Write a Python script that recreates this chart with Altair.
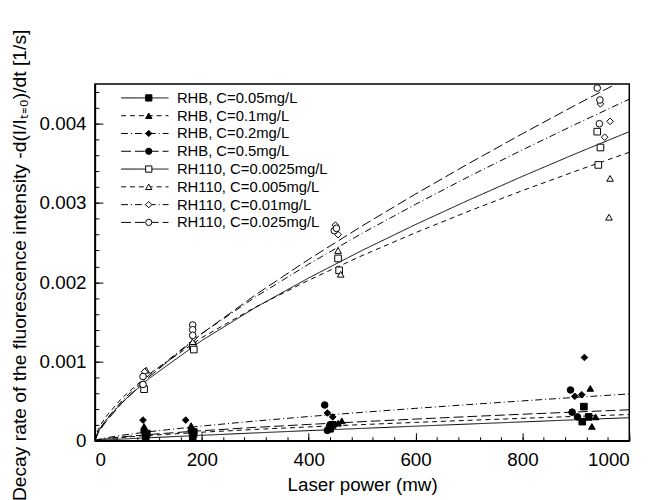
import altair as alt
import pandas as pd

series = ["RHB, C=0.05mg/L", "RHB, C=0.1mg/L", "RHB, C=0.2mg/L", "RHB, C=0.5mg/L",
          "RH110, C=0.0025mg/L", "RH110, C=0.005mg/L", "RH110, C=0.01mg/L", "RH110, C=0.025mg/L"]

# fitted curves
curve_x = [0, 5, 10, 20, 50, 100, 200, 300, 400, 500, 600, 700, 800, 900, 1000]
rhb_005 = [0, 0.0000025, 0.0000046, 0.0000086, 0.00002, 0.0000365, 0.000068, 0.000098, 0.000127, 0.000155, 0.000183, 0.00021, 0.000237, 0.000264, 0.00029]
rhb_01 = [0, 0.0000081, 0.0000131, 0.0000213, 0.0000405, 0.0000658, 0.000107, 0.000142, 0.000174, 0.000203, 0.000231, 0.000257, 0.000282, 0.000307, 0.00033]
rhb_02 = [0, 0.000013, 0.0000214, 0.0000353, 0.0000683, 0.000112, 0.000185, 0.000248, 0.000305, 0.000358, 0.000408, 0.000456, 0.000502, 0.000547, 0.00059]
rhb_05 = [0, 0.0000096, 0.0000155, 0.0000252, 0.0000479, 0.0000778, 0.000126, 0.000168, 0.000205, 0.00024, 0.000273, 0.000304, 0.000334, 0.000362, 0.00039]
rh_00025 = [0, 0.000096, 0.000155, 0.000252, 0.000479, 0.000778, 0.001264, 0.001679, 0.002054, 0.002401, 0.002728, 0.003038, 0.003336, 0.003623, 0.0039]
rh_0005 = [0, 0.000123, 0.000191, 0.000298, 0.000535, 0.000834, 0.0013, 0.001685, 0.002025, 0.002336, 0.002625, 0.002897, 0.003156, 0.003403, 0.00364]
rh_001 = [0, 0.000095, 0.000156, 0.000258, 0.000499, 0.000821, 0.001352, 0.001812, 0.002228, 0.002617, 0.002983, 0.003334, 0.00367, 0.003995, 0.00431]
rh_0025 = [0, 0.000082, 0.000139, 0.000235, 0.000471, 0.000798, 0.001351, 0.001838, 0.002288, 0.00271, 0.003113, 0.0035, 0.003874, 0.004237, 0.00459]
curves = [rhb_005, rhb_01, rhb_02, rhb_05, rh_00025, rh_0005, rh_001, rh_0025]

# measured points
p_rhb_005_x = [95, 97, 183, 185, 440, 445, 915, 924, 912]
p_rhb_005_y = [0.00005, 0.00009, 0.00004, 0.00011, 0.00015, 0.0002, 0.00043, 0.0003, 0.00024]
p_rhb_01_x = [92, 95, 180, 185, 455, 462, 927, 937, 930]
p_rhb_01_y = [0.00018, 0.0001, 0.00019, 0.00008, 0.00022, 0.00025, 0.00066, 0.0003, 0.00018]
p_rhb_02_x = [90, 170, 435, 445, 916, 898, 911]
p_rhb_02_y = [0.00026, 0.00026, 0.00035, 0.0003, 0.00105, 0.00056, 0.00058]
p_rhb_05_x = [92, 180, 430, 435, 440, 890, 893, 903]
p_rhb_05_y = [0.00012, 0.00012, 0.00045, 0.00013, 0.0002, 0.00064, 0.00036, 0.0003]
p_rh_00025_x = [92, 183, 185, 455, 457, 940, 946, 942]
p_rh_00025_y = [0.00065, 0.0012, 0.00115, 0.0023, 0.00215, 0.0039, 0.0037, 0.00348]
p_rh_0005_x = [96, 183, 455, 460, 964, 962]
p_rh_0005_y = [0.00089, 0.00125, 0.0024, 0.0021, 0.00331, 0.00282]
p_rh_001_x = [93, 185, 450, 455, 964, 954, 946]
p_rh_001_y = [0.00087, 0.0013, 0.00272, 0.0026, 0.00403, 0.00383, 0.00425]
p_rh_0025_x = [90, 90, 183, 183, 183, 448, 452, 940, 945, 944]
p_rh_0025_y = [0.00081, 0.00071, 0.00146, 0.0014, 0.00133, 0.00265, 0.00268, 0.00445, 0.0043, 0.004]
pts_x = [p_rhb_005_x, p_rhb_01_x, p_rhb_02_x, p_rhb_05_x, p_rh_00025_x, p_rh_0005_x, p_rh_001_x, p_rh_0025_x]
pts_y = [p_rhb_005_y, p_rhb_01_y, p_rhb_02_y, p_rhb_05_y, p_rh_00025_y, p_rh_0005_y, p_rh_001_y, p_rh_0025_y]

x_major = [0, 200, 400, 600, 800, 1000]
x_minor = list(range(0, 1001, 40))
y_major = [0, 0.001, 0.002, 0.003, 0.004]
y_minor = [round(i * 0.0002, 4) for i in range(0, 23)]

dashes = [[1, 0], [5, 4], [7, 3, 1, 3], [10, 4], [1, 0], [5, 4], [7, 3, 1, 3], [10, 4]]
shapes = ["square", "triangle-up", "diamond", "circle", "square", "triangle-up", "diamond", "circle"]
fills = ["black"] * 4 + ["white"] * 4
strokes = ["black"] * 8

rows = []
for i, s in enumerate(series):
    for xv, yv in zip(curve_x, curves[i]):
        rows.append({"series": s, "order": i, "x": xv, "y": yv})
curve_df = pd.DataFrame(rows)

rows = []
for i, s in enumerate(series):
    for xv, yv in zip(pts_x[i], pts_y[i]):
        rows.append({"series": s, "order": i, "x": xv, "y": yv})
pts_df = pd.DataFrame(rows)

FONT = "Liberation Sans"
xscale = alt.Scale(domain=[0, 1000], nice=False, zero=True)
yscale = alt.Scale(domain=[0, 0.0045], nice=False, zero=True)
sort = alt.EncodingSortField(field="order", op="min")

line_legend = alt.Legend(orient="none", legendX=26, legendY=5, title=None,
                         symbolType="stroke", symbolSize=2304, symbolStrokeWidth=1,
                         symbolStrokeColor="black", labelFontSize=15, labelFont=FONT,
                         labelColor="black", labelOffset=8, clipHeight=18, rowPadding=0,
                         padding=0)
pt_legend = alt.Legend(orient="none", legendX=47, legendY=5, title=None,
                       symbolSize=40, symbolStrokeWidth=1, symbolStrokeColor="black",
                       labelFontSize=15, labelFont=FONT, labelExpr="''", labelOffset=8,
                       clipHeight=18, rowPadding=0, padding=0)

lines = alt.Chart(curve_df).mark_line(color="black", strokeWidth=1, clip=True).encode(
    x=alt.X("x:Q", scale=xscale,
            axis=alt.Axis(orient="bottom", offset=0, values=x_major, format="d",
                          title="Laser power (mw)", titleFontSize=19, titleFont=FONT,
                          titleFontWeight="normal", titleColor="black", titlePadding=6,
                          labelFontSize=19, labelFont=FONT, labelColor="black",
                          tickSize=alt.ExprRef("-8"), tickColor="black", tickWidth=1,
                          labelPadding=18, domainColor="black", domainWidth=1.5,
                          grid=False)),
    y=alt.Y("y:Q", scale=yscale,
            axis=alt.Axis(orient="left", offset=0, values=y_major,
                          labelExpr="datum.value == 0 ? '0' : format(datum.value, '.3f')",
                          title="Decay rate of the fluorescence intensity -d(I/Iₜ₌₀)/dt [1/s]",
                          titleFontSize=19.5, titleFont=FONT, titleFontWeight="normal",
                          titleColor="black", titleAngle=270, titleBaseline="middle",
                          titleAlign="center", titleX=-76, titleY=183,
                          labelFontSize=19, labelFont=FONT, labelColor="black",
                          tickSize=alt.ExprRef("-8"), tickColor="black", tickWidth=1,
                          labelPadding=17, domainColor="black", domainWidth=1.5,
                          grid=False)),
    strokeDash=alt.StrokeDash("series:N", sort=sort, scale=alt.Scale(range=dashes),
                              legend=line_legend),
    detail="series:N",
)

points = alt.Chart(pts_df).mark_point(filled=True, size=45, strokeWidth=1, opacity=1,
                                      clip=True).encode(
    x=alt.X("x:Q", scale=xscale,
            axis=alt.Axis(orient="bottom", offset=0, values=x_minor, labels=False,
                          domain=False, title=None, tickSize=alt.ExprRef("-4"),
                          tickColor="black", tickWidth=1, grid=False)),
    y=alt.Y("y:Q", scale=yscale,
            axis=alt.Axis(orient="left", offset=0, values=y_minor, labels=False,
                          domain=False, title=None, tickSize=alt.ExprRef("-4"),
                          tickColor="black", tickWidth=1, grid=False)),
    shape=alt.Shape("series:N", sort=sort, scale=alt.Scale(range=shapes), legend=pt_legend),
    fill=alt.Fill("series:N", sort=sort, scale=alt.Scale(range=fills), legend=pt_legend),
    stroke=alt.Stroke("series:N", sort=sort, scale=alt.Scale(range=strokes), legend=pt_legend),
)

chart = alt.layer(lines, points).resolve_axis(x="independent", y="independent").properties(
    width=541, height=361, autosize=alt.AutoSizeParams(type="none"),
    padding={"left": 88, "top": 74, "right": 24, "bottom": 57},
    background="white",
).configure_view(stroke="black", strokeWidth=1.5)

chart.save("out.html", embed_options={"renderer": "svg", "actions": False})
